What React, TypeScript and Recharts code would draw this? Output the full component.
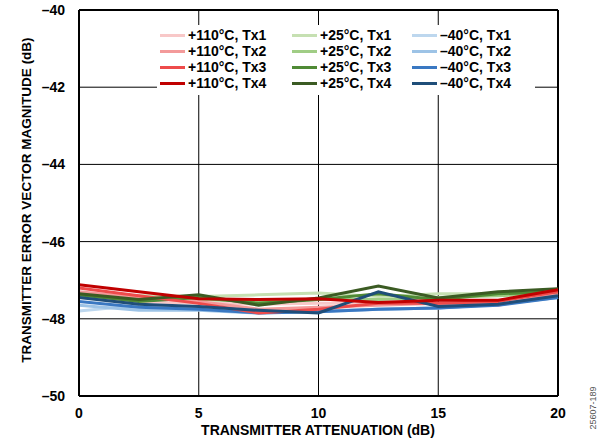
import { LineChart, Line, XAxis, YAxis, CartesianGrid, ReferenceLine } from "recharts";

const attenuation = [0, 2.5, 5, 7.5, 10, 12.5, 15, 17.5, 20];

const hot110Tx1 = [-47.45, -47.55, -47.6, -47.62, -47.6, -47.6, -47.6, -47.62, -47.4];
const hot110Tx2 = [-47.3, -47.45, -47.55, -47.75, -47.7, -47.65, -47.6, -47.65, -47.35];
const hot110Tx3 = [-47.2, -47.4, -47.6, -47.85, -47.75, -47.6, -47.6, -47.55, -47.3];
const hot110Tx4 = [-47.12, -47.3, -47.48, -47.5, -47.48, -47.58, -47.52, -47.52, -47.25];
const room25Tx1 = [-47.35, -47.4, -47.42, -47.38, -47.33, -47.42, -47.35, -47.35, -47.3];
const room25Tx2 = [-47.4, -47.5, -47.5, -47.55, -47.5, -47.5, -47.45, -47.4, -47.35];
const room25Tx3 = [-47.38, -47.55, -47.45, -47.6, -47.5, -47.35, -47.5, -47.35, -47.3];
const room25Tx4 = [-47.35, -47.5, -47.38, -47.65, -47.46, -47.15, -47.46, -47.3, -47.22];
const cold40Tx1 = [-47.8, -47.65, -47.72, -47.8, -47.82, -47.75, -47.72, -47.62, -47.45];
const cold40Tx2 = [-47.65, -47.78, -47.78, -47.85, -47.8, -47.75, -47.72, -47.62, -47.45];
const cold40Tx3 = [-47.55, -47.7, -47.75, -47.85, -47.82, -47.75, -47.72, -47.65, -47.45];
const cold40Tx4 = [-47.45, -47.62, -47.68, -47.78, -47.85, -47.3, -47.68, -47.62, -47.4];

const xTicks = [0, 5, 10, 15, 20];
const yTicks = [-50, -48, -46, -44, -42, -40];

// legend order: column by column
const series = [
    { key: "h1", name: "+110°C, Tx1", values: hot110Tx1, color: "#f8c8c8" },
    { key: "h2", name: "+110°C, Tx2", values: hot110Tx2, color: "#f39a9a" },
    { key: "h3", name: "+110°C, Tx3", values: hot110Tx3, color: "#ee4b4b" },
    { key: "h4", name: "+110°C, Tx4", values: hot110Tx4, color: "#c00000" },
    { key: "r1", name: "+25°C, Tx1", values: room25Tx1, color: "#c6e0b2" },
    { key: "r2", name: "+25°C, Tx2", values: room25Tx2, color: "#a0cd85" },
    { key: "r3", name: "+25°C, Tx3", values: room25Tx3, color: "#4f8a35" },
    { key: "r4", name: "+25°C, Tx4", values: room25Tx4, color: "#3b5b23" },
    { key: "c1", name: "–40°C, Tx1", values: cold40Tx1, color: "#bdd7ee" },
    { key: "c2", name: "–40°C, Tx2", values: cold40Tx2, color: "#9dc3e6" },
    { key: "c3", name: "–40°C, Tx3", values: cold40Tx3, color: "#3a78c2" },
    { key: "c4", name: "–40°C, Tx4", values: cold40Tx4, color: "#1f4e79" },
];

// light lines underneath, dark on top
const drawOrder = ["c1", "r1", "h1", "c2", "r2", "h2", "c3", "r3", "h3", "c4", "r4", "h4"];

const data = attenuation.map((x, i) => {
    const row: Record<string, number> = { x };
    series.forEach((s) => {
        row[s.key] = s.values[i];
    });
    return row;
});

const fontFamily = "Liberation Sans, Arial, sans-serif";
const tickStyle = { fontSize: 14, fontWeight: 700, fill: "#000", fontFamily };

const fmt = (v: number) => (v < 0 ? `\u2013${Math.abs(v)}` : `${v}`);

const LegendBox = () => {
    const columns = [series.slice(0, 4), series.slice(4, 8), series.slice(8, 12)];
    const colLeft = [3, 135, 255];
    return (
        <div style={{ position: "absolute", left: 157, top: 25, width: 378, height: 70, background: "#fff" }}>
            {columns.map((col, ci) => (
                <div key={ci} style={{ position: "absolute", left: colLeft[ci], top: 2 }}>
                    {col.map((s) => (
                        <div key={s.key} style={{ display: "flex", alignItems: "center", height: 16 }}>
                            <div style={{ width: 25, height: 3, background: s.color, marginRight: 3 }} />
                            <span style={{ fontFamily, fontSize: 14, fontWeight: 700, color: "#000", whiteSpace: "nowrap", lineHeight: "16px" }}>
                                {s.name}
                            </span>
                        </div>
                    ))}
                </div>
            ))}
        </div>
    );
};

export default function App() {
    return (
        <div style={{ position: "absolute", top: 0, left: 0, width: 605, height: 448, background: "#fff" }}>
            <LineChart width={605} height={448} data={data} margin={{ top: 10, right: 47, left: 0, bottom: 22 }}>
                <CartesianGrid stroke="#000" strokeWidth={1} />
                <XAxis
                    dataKey="x"
                    type="number"
                    domain={[0, 20]}
                    ticks={xTicks}
                    tick={tickStyle}
                    tickLine={false}
                    axisLine={{ stroke: "#000", strokeWidth: 2 }}
                    tickMargin={6}
                    height={30}
                    tickFormatter={fmt}
                />
                <YAxis
                    type="number"
                    domain={[-50, -40]}
                    ticks={yTicks}
                    tick={tickStyle}
                    tickLine={false}
                    axisLine={{ stroke: "#000", strokeWidth: 2 }}
                    tickMargin={8}
                    width={79}
                    tickFormatter={fmt}
                    interval={0}
                />
                <ReferenceLine y={-40} stroke="#000" strokeWidth={2} />
                <ReferenceLine x={20} stroke="#000" strokeWidth={2} />
                {drawOrder.map((k) => {
                    const s = series.find((item) => item.key === k)!;
                    return (
                        <Line
                            key={s.key}
                            dataKey={s.key}
                            name={s.name}
                            stroke={s.color}
                            strokeWidth={3}
                            dot={false}
                            type="linear"
                            isAnimationActive={false}
                        />
                    );
                })}
                <text
                    x={318}
                    y={435}
                    textAnchor="middle"
                    style={{ fontFamily, fontSize: 14, fontWeight: 700 }}
                    fill="#000"
                >
                    TRANSMITTER ATTENUATION (dB)
                </text>
                <text
                    x={31}
                    y={200}
                    textAnchor="middle"
                    transform="rotate(-90 31 200)"
                    style={{ fontFamily, fontSize: 13.5, fontWeight: 700 }}
                    fill="#000"
                >
                    TRANSMITTER ERROR VECTOR MAGNITUDE (dB)
                </text>
                <text
                    x={596}
                    y={408}
                    textAnchor="middle"
                    transform="rotate(-90 596 408)"
                    style={{ fontFamily, fontSize: 9 }}
                    fill="#555"
                >
                    25607-189
                </text>
            </LineChart>
            <LegendBox />
        </div>
    );
}
